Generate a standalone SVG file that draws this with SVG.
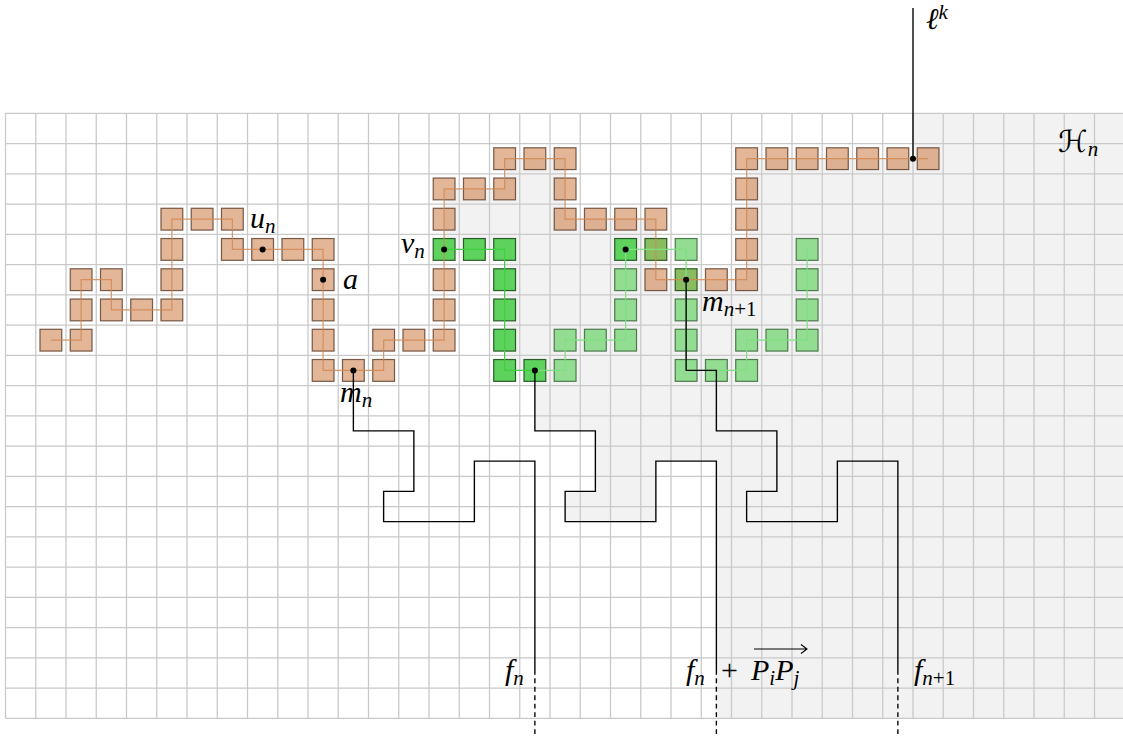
<svg xmlns="http://www.w3.org/2000/svg" width="1123" height="736" viewBox="0 0 1123 736">
<style>
.grid{fill:none;stroke:#c9c9c9;stroke-width:0.042}
.or{fill:#c86e32;fill-opacity:0.5;stroke:#5a3a26;stroke-opacity:0.8;stroke-width:0.04}
.dg{fill:#5dd25d;stroke:#2a5c2a;stroke-width:0.04}
.lg{fill:#93dd93;stroke:#4e7a4e;stroke-width:0.04}
.ol{fill:#8abd62;stroke:#2f5a22;stroke-width:0.04}
.oline{fill:none;stroke:#d4874f;stroke-width:0.04;stroke-opacity:0.85}
.gline{fill:none;stroke:#3fcf3f;stroke-width:0.04}
.lgline{fill:none;stroke:#7fe07f;stroke-width:0.04}
.bl{fill:none;stroke:#000;stroke-width:0.045}
.dash{fill:none;stroke:#000;stroke-width:0.045;stroke-dasharray:0.16 0.12}
.dot{fill:#000}
.m{font-family:"Liberation Serif","Times New Roman",serif;font-style:italic;font-size:30px;fill:#000}
.s{font-size:21px}
.r{font-style:normal}
.cal{font-family:"DejaVu Sans","DejaVu Serif",serif;font-style:normal;font-size:30px;fill:#000}
</style>
<rect x="0" y="0" width="1123" height="736" fill="#fff"/>
<g transform="translate(5.5 113.3) scale(30.25)">
<g id="region-H">
<path fill="#f2f2f2" d="M30 0H37V20H23.5V11.5H21.5V13.5H18.5V12.5H19.5V10.5H17.5V8.5H16.5V4.5H14.5V2.5H16.5V1.5H18.5V3.5H21.5V5.5H24.5V1.5H30Z"/>
</g>
<g id="grid">
<path class="grid" d="M0 0V20M1 0V20M2 0V20M3 0V20M4 0V20M5 0V20M6 0V20M7 0V20M8 0V20M9 0V20M10 0V20M11 0V20M12 0V20M13 0V20M14 0V20M15 0V20M16 0V20M17 0V20M18 0V20M19 0V20M20 0V20M21 0V20M22 0V20M23 0V20M24 0V20M25 0V20M26 0V20M27 0V20M28 0V20M29 0V20M30 0V20M31 0V20M32 0V20M33 0V20M34 0V20M35 0V20M36 0V20M37 0V20M0 0H37M0 1H37M0 2H37M0 3H37M0 4H37M0 5H37M0 6H37M0 7H37M0 8H37M0 9H37M0 10H37M0 11H37M0 12H37M0 13H37M0 14H37M0 15H37M0 16H37M0 17H37M0 18H37M0 19H37M0 20H37"/>
</g>
<g id="curve-orange">
<rect class="or" x="1.14" y="7.14" width="0.72" height="0.72"/>
<rect class="or" x="2.14" y="7.14" width="0.72" height="0.72"/>
<rect class="or" x="2.14" y="6.14" width="0.72" height="0.72"/>
<rect class="or" x="2.14" y="5.14" width="0.72" height="0.72"/>
<rect class="or" x="3.14" y="5.14" width="0.72" height="0.72"/>
<rect class="or" x="3.14" y="6.14" width="0.72" height="0.72"/>
<rect class="or" x="4.14" y="6.14" width="0.72" height="0.72"/>
<rect class="or" x="5.14" y="6.14" width="0.72" height="0.72"/>
<rect class="or" x="5.14" y="5.14" width="0.72" height="0.72"/>
<rect class="or" x="5.14" y="4.14" width="0.72" height="0.72"/>
<rect class="or" x="5.14" y="3.14" width="0.72" height="0.72"/>
<rect class="or" x="6.14" y="3.14" width="0.72" height="0.72"/>
<rect class="or" x="7.14" y="3.14" width="0.72" height="0.72"/>
<rect class="or" x="7.14" y="4.14" width="0.72" height="0.72"/>
<rect class="or" x="8.14" y="4.14" width="0.72" height="0.72"/>
<rect class="or" x="9.14" y="4.14" width="0.72" height="0.72"/>
<rect class="or" x="10.14" y="4.14" width="0.72" height="0.72"/>
<rect class="or" x="10.14" y="5.14" width="0.72" height="0.72"/>
<rect class="or" x="10.14" y="6.14" width="0.72" height="0.72"/>
<rect class="or" x="10.14" y="7.14" width="0.72" height="0.72"/>
<rect class="or" x="10.14" y="8.14" width="0.72" height="0.72"/>
<rect class="or" x="11.14" y="8.14" width="0.72" height="0.72"/>
<rect class="or" x="12.14" y="8.14" width="0.72" height="0.72"/>
<rect class="or" x="12.14" y="7.14" width="0.72" height="0.72"/>
<rect class="or" x="13.14" y="7.14" width="0.72" height="0.72"/>
<rect class="or" x="14.14" y="7.14" width="0.72" height="0.72"/>
<rect class="or" x="14.14" y="6.14" width="0.72" height="0.72"/>
<rect class="or" x="14.14" y="5.14" width="0.72" height="0.72"/>
<rect class="or" x="14.14" y="3.14" width="0.72" height="0.72"/>
<rect class="or" x="14.14" y="2.14" width="0.72" height="0.72"/>
<rect class="or" x="15.14" y="2.14" width="0.72" height="0.72"/>
<rect class="or" x="16.14" y="2.14" width="0.72" height="0.72"/>
<rect class="or" x="16.14" y="1.14" width="0.72" height="0.72"/>
<rect class="or" x="17.14" y="1.14" width="0.72" height="0.72"/>
<rect class="or" x="18.14" y="1.14" width="0.72" height="0.72"/>
<rect class="or" x="18.14" y="2.14" width="0.72" height="0.72"/>
<rect class="or" x="18.14" y="3.14" width="0.72" height="0.72"/>
<rect class="or" x="19.14" y="3.14" width="0.72" height="0.72"/>
<rect class="or" x="20.14" y="3.14" width="0.72" height="0.72"/>
<rect class="or" x="21.14" y="3.14" width="0.72" height="0.72"/>
<rect class="or" x="21.14" y="5.14" width="0.72" height="0.72"/>
<rect class="or" x="23.14" y="5.14" width="0.72" height="0.72"/>
<rect class="or" x="24.14" y="5.14" width="0.72" height="0.72"/>
<rect class="or" x="24.14" y="4.14" width="0.72" height="0.72"/>
<rect class="or" x="24.14" y="3.14" width="0.72" height="0.72"/>
<rect class="or" x="24.14" y="2.14" width="0.72" height="0.72"/>
<rect class="or" x="24.14" y="1.14" width="0.72" height="0.72"/>
<rect class="or" x="25.14" y="1.14" width="0.72" height="0.72"/>
<rect class="or" x="26.14" y="1.14" width="0.72" height="0.72"/>
<rect class="or" x="27.14" y="1.14" width="0.72" height="0.72"/>
<rect class="or" x="28.14" y="1.14" width="0.72" height="0.72"/>
<rect class="or" x="29.14" y="1.14" width="0.72" height="0.72"/>
<rect class="or" x="30.14" y="1.14" width="0.72" height="0.72"/>
</g>
<g id="curve-green">
<rect class="dg" x="14.14" y="4.14" width="0.72" height="0.72"/>
<rect class="dg" x="15.14" y="4.14" width="0.72" height="0.72"/>
<rect class="dg" x="16.14" y="4.14" width="0.72" height="0.72"/>
<rect class="dg" x="16.14" y="5.14" width="0.72" height="0.72"/>
<rect class="dg" x="16.14" y="6.14" width="0.72" height="0.72"/>
<rect class="dg" x="16.14" y="7.14" width="0.72" height="0.72"/>
<rect class="dg" x="16.14" y="8.14" width="0.72" height="0.72"/>
<rect class="dg" x="17.14" y="8.14" width="0.72" height="0.72"/>
<rect class="dg" x="20.14" y="4.14" width="0.72" height="0.72"/>
<rect class="lg" x="18.14" y="8.14" width="0.72" height="0.72"/>
<rect class="lg" x="18.14" y="7.14" width="0.72" height="0.72"/>
<rect class="lg" x="19.14" y="7.14" width="0.72" height="0.72"/>
<rect class="lg" x="20.14" y="7.14" width="0.72" height="0.72"/>
<rect class="lg" x="20.14" y="6.14" width="0.72" height="0.72"/>
<rect class="lg" x="20.14" y="5.14" width="0.72" height="0.72"/>
<rect class="lg" x="22.14" y="4.14" width="0.72" height="0.72"/>
<rect class="lg" x="22.14" y="6.14" width="0.72" height="0.72"/>
<rect class="lg" x="22.14" y="7.14" width="0.72" height="0.72"/>
<rect class="lg" x="22.14" y="8.14" width="0.72" height="0.72"/>
<rect class="lg" x="23.14" y="8.14" width="0.72" height="0.72"/>
<rect class="lg" x="24.14" y="8.14" width="0.72" height="0.72"/>
<rect class="lg" x="24.14" y="7.14" width="0.72" height="0.72"/>
<rect class="lg" x="25.14" y="7.14" width="0.72" height="0.72"/>
<rect class="lg" x="26.14" y="7.14" width="0.72" height="0.72"/>
<rect class="lg" x="26.14" y="6.14" width="0.72" height="0.72"/>
<rect class="lg" x="26.14" y="5.14" width="0.72" height="0.72"/>
<rect class="lg" x="26.14" y="4.14" width="0.72" height="0.72"/>
<rect class="ol" x="21.14" y="4.14" width="0.72" height="0.72"/>
<rect class="ol" x="22.14" y="5.14" width="0.72" height="0.72"/>
</g>
<g id="connectors">
<path class="oline" d="M1.5 7.5H2.5V5.5H3.5V6.5H5.5V3.5H7.5V4.5H10.5V8.5H12.5V7.5H14.5V2.5H16.5V1.5H18.5V3.5H21.5V5.5H24.5V1.5H30.5"/>
<path class="gline" d="M14.5 4.5H16.5V8.5H17.5"/>
<path class="lgline" d="M17.5 8.5H18.5V7.5H20.5V4.5H22.5V8.5H24.5V7.5H26.5V4.5"/>
<path class="bl" d="M30 -3.48V1.5"/>
<path class="bl" d="M11.5 8.5V10.5H13.5V12.5H12.5V13.5H15.5V11.5H17.5V18.4"/>
<path class="bl" d="M17.5 8.5V10.5H19.5V12.5H18.5V13.5H21.5V11.5H23.5V18.4"/>
<path class="bl" d="M22.5 5.5V8.5H23.5V10.5H25.5V12.5H24.5V13.5H27.5V11.5H29.5V18.4"/>
<path class="dash" d="M17.5 18.4V20.6M23.5 18.4V20.6M29.5 18.4V20.6"/>
</g>
<g id="points">
<circle class="dot" cx="8.5" cy="4.5" r="0.1"/>
<circle class="dot" cx="10.5" cy="5.5" r="0.1"/>
<circle class="dot" cx="11.5" cy="8.5" r="0.1"/>
<circle class="dot" cx="14.5" cy="4.5" r="0.1"/>
<circle class="dot" cx="17.5" cy="8.5" r="0.1"/>
<circle class="dot" cx="20.5" cy="4.5" r="0.1"/>
<circle class="dot" cx="22.5" cy="5.5" r="0.1"/>
<circle class="dot" cx="30" cy="1.5" r="0.1"/>
</g>
</g>
<g id="labels">
<g id="label-un"><text class="m" x="250" y="228">u<tspan class="s" dy="5">n</tspan></text></g>
<g id="label-a"><text class="m" x="343" y="289">a</text></g>
<g id="label-vn"><text class="m" x="401" y="253">v<tspan class="s" dy="5">n</tspan></text></g>
<g id="label-mn"><text class="m" x="340" y="402">m<tspan class="s" dy="5">n</tspan></text></g>
<g id="label-mn1"><text class="m" x="702" y="311">m<tspan class="s" dy="5">n</tspan><tspan class="s r">+1</tspan></text></g>
<g id="label-fn"><text class="m" x="505" y="680">f<tspan class="s" dy="5">n</tspan></text></g>
<g id="label-fnPP">
<text class="m" x="686" y="680">f<tspan class="s" dy="5">n</tspan><tspan class="r" x="721" dy="-5">+</tspan><tspan x="751">P</tspan><tspan class="s" dy="5">i</tspan><tspan dy="-5">P</tspan><tspan class="s" dy="5">j</tspan></text>
<path d="M754 649H806M801 644.5L807 649L801 653.5" fill="none" stroke="#000" stroke-width="1.1"/>
</g>
<g id="label-fn1"><text class="m" x="914" y="680">f<tspan class="s" dy="5">n</tspan><tspan class="s r">+1</tspan></text></g>
<g id="label-lk"><text class="m" x="926" y="29">ℓ<tspan class="s" dy="-10">k</tspan></text></g>
<g id="label-Hn"><text class="cal" x="1058" y="152">ℋ<tspan class="m s" dy="4">n</tspan></text></g>
</g>
</svg>
